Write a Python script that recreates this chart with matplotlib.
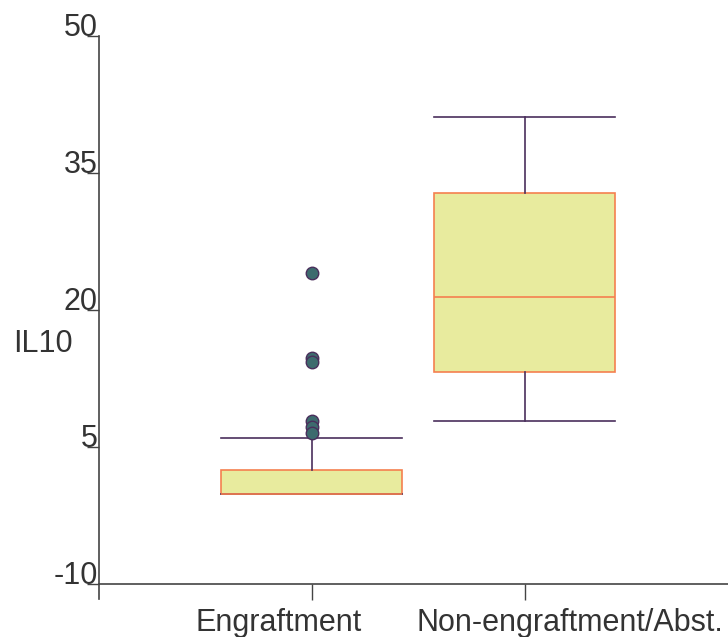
import matplotlib
matplotlib.use("Agg")
import matplotlib.pyplot as plt
from matplotlib.transforms import offset_copy

plt.rcParams['font.family'] = ['Liberation Sans', 'DejaVu Sans']

# data
groups = ["Engraftment", "Non-engraftment/Abst."]
whis_lo = [-0.15, 7.9]
q1 = [-0.15, 13.2]
median = [-0.15, 21.4]
q3 = [2.5, 32.8]
whis_hi = [5.95, 41.1]
fliers = [[24.1, 14.75, 14.3, 7.85, 7.2, 6.55], []]

yticks = [-10, 5, 20, 35, 50]

box_fill = "#e8eb9e"
box_edge = "#f5804f"
whisk_col = "#4a2f5c"
dot_col = "#3d6b6e"
axis_col = "#444444"
text_col = "#333333"
fs = 22

fig = plt.figure(figsize=(7.28, 6.37), dpi=100)
ax = fig.add_axes([99 / 728, (637 - 584) / 637, 1 - 99 / 728, (584 - 36) / 637])

stats = []
for i in range(len(groups)):
    stats.append(dict(label=groups[i], whislo=whis_lo[i], q1=q1[i], med=median[i],
                      q3=q3[i], whishi=whis_hi[i], fliers=fliers[i]))

ax.bxp(stats, positions=[1, 2], widths=0.85, patch_artist=True,
       boxprops=dict(facecolor=box_fill, edgecolor=box_edge, linewidth=1.2),
       medianprops=dict(color=box_edge, linewidth=1.2),
       whiskerprops=dict(color=whisk_col, linewidth=1.2),
       capprops=dict(color=whisk_col, linewidth=1.2),
       capwidths=0.85,
       flierprops=dict(marker='o', markerfacecolor=dot_col, markeredgecolor=whisk_col,
                       markersize=9, markeredgewidth=1))

ax.set_xlim(0, 2.955)
ax.set_ylim(-10, 50)

for s in ['top', 'right']:
    ax.spines[s].set_visible(False)
for s in ['left', 'bottom']:
    ax.spines[s].set_color(axis_col)
    ax.spines[s].set_linewidth(1.2)
ax.spines['left'].set_bounds(-10 - 15 / 9.13, 50)

ax.set_yticks(yticks)
ax.set_yticklabels([str(v) for v in yticks], fontsize=fs, color=text_col, va='baseline')
ax.tick_params(axis='y', length=9, width=1, color=axis_col, pad=-8.0)

ax.set_xticks([1, 2])
ax.set_xticklabels(["", ""])
ax.tick_params(axis='x', length=11.5, width=1, color=axis_col)

# category labels sit a little off their ticks in the original
label_x = [0.842, 2.214]
trans = offset_copy(ax.transData, fig=fig, x=0, y=-47 * 0.72, units='points')
for x, name in zip(label_x, groups):
    ax.text(x, -10, name, transform=trans, ha='center', va='baseline',
            fontsize=fs, color=text_col, clip_on=False)

fig.text(13 / 728, 1 - 352 / 637, "IL10", ha='left', va='baseline', fontsize=fs, color=text_col)

fig.savefig("out.png", dpi=100)
